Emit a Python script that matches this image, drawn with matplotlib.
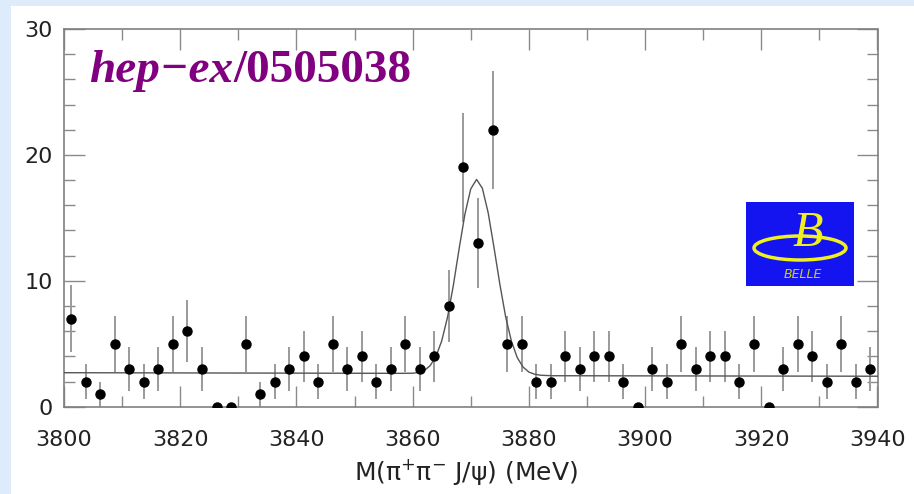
import numpy as np
import matplotlib
matplotlib.use('Agg')
import matplotlib.pyplot as plt
from matplotlib.patches import Rectangle, Ellipse

plt.rcParams['font.family'] = ['DejaVu Sans']
plt.rcParams['mathtext.fontset'] = 'dejavusans'

# --- data ---
bin_lo = 3800.0
bin_width = 2.5
counts = [7, 2, 1, 5, 3, 2, 3, 5, 6, 3, 0, 0, 5, 1, 2, 3, 4, 2, 5, 3,
          4, 2, 3, 5, 3, 4, 8, 19, 13, 22, 5, 5, 2, 2, 4, 3, 4, 4, 2, 0,
          3, 2, 5, 3, 4, 4, 2, 5, 0, 3, 5, 4, 2, 5, 2, 3]

# fit curve, sampled by eye from the plot
fit_x = [3800, 3858, 3860, 3861, 3862, 3863, 3864, 3865, 3866, 3867, 3868,
         3869, 3870, 3871, 3872, 3873, 3874, 3875, 3876, 3877, 3878, 3879,
         3880, 3881, 3882, 3884, 3940]
fit_y = [2.70, 2.65, 2.66, 2.72, 2.88, 3.25, 3.98, 5.22, 7.10, 9.62, 12.55,
         15.30, 17.30, 18.05, 17.35, 15.40, 12.65, 9.75, 7.15, 5.20, 3.90, 3.15,
         2.75, 2.58, 2.50, 2.46, 2.42]

x_ticks = [3800, 3820, 3840, 3860, 3880, 3900, 3920, 3940]
y_ticks = [0, 10, 20, 30]

counts = np.array(counts, dtype=float)
centers = bin_lo + bin_width * (np.arange(len(counts)) + 0.5)
errors = np.sqrt(counts)

W, H = 914, 494


def fx(px):
    return px / W


def fy(py):
    return (H - py) / H


fig = plt.figure(figsize=(W / 100, H / 100), dpi=100, facecolor='#deebfa')
fig.add_artist(Rectangle((fx(11), 0), 1, fy(6), transform=fig.transFigure,
                         facecolor='white', edgecolor='none', zorder=-5))

ax = fig.add_axes([fx(64), fy(406.7), fx(877.5) - fx(64), fy(29) - fy(406.7)])
ax.set_facecolor('white')

# error bars + points
ax.vlines(centers, counts - errors, counts + errors, color='#9a9a9a', lw=1.4, zorder=2)
ax.plot(fit_x, fit_y, color='#555555', lw=1.0, zorder=3)
ax.plot(centers, counts, 'o', color='black', ms=6.5, zorder=4)

ax.set_xlim(3800, 3940)
ax.set_ylim(0, 30)
ax.set_xticks(x_ticks)
ax.set_yticks(y_ticks)
ax.set_xticks(np.arange(3810, 3940, 20), minor=True)
ax.set_yticks(np.arange(2, 30, 2), minor=True)

for s in ax.spines.values():
    s.set_color('#808080')
    s.set_linewidth(1.2)

ax.tick_params(which='both', direction='in', top=True, right=True,
               color='#8a8a8a', width=1.0, labelcolor='#222222', labelsize=16)
ax.tick_params(which='major', length=15)
ax.tick_params(which='minor', length=8)
ax.tick_params(axis='x', which='major', pad=17)
ax.tick_params(axis='y', which='major', pad=8)

fig.text(fx(466), fy(480), 'M(\u03c0$^{+}$\u03c0$^{-}$ J/\u03c8) (MeV)', ha='center',
         va='baseline', fontsize=18, color='#222222')

# title tag
t1 = fig.text(fx(89), fy(82), 'hep\u2212ex', fontsize=34, color='#800080',
              family='Liberation Serif', weight='bold', style='italic', va='baseline')
fig.canvas.draw()
bb = t1.get_window_extent()
fig.text(bb.x1 / W, fy(82), '/0505038', fontsize=34, color='#800080',
         family='Liberation Serif', weight='bold', va='baseline')

# BELLE logo
fig.add_artist(Rectangle((fx(746), fy(286)), fx(854) - fx(746), fy(202) - fy(286),
                         transform=fig.transFigure, facecolor='#1414f0',
                         edgecolor='none', zorder=5))
fig.add_artist(Ellipse((fx(800), fy(248)), fx(92), 24 / H,
                       transform=fig.transFigure, facecolor='none',
                       edgecolor='#f0f020', lw=2.5, zorder=6))
fig.text(fx(808), fy(234), 'B', fontsize=36, color='#f0f020', family='Liberation Serif',
         style='italic', ha='center', va='center', zorder=7)
fig.text(fx(803), fy(275), 'BELLE', fontsize=9, color='#d0d020', style='italic',
         ha='center', va='center', zorder=7)

fig.savefig('out.png', dpi=100, facecolor=fig.get_facecolor())
